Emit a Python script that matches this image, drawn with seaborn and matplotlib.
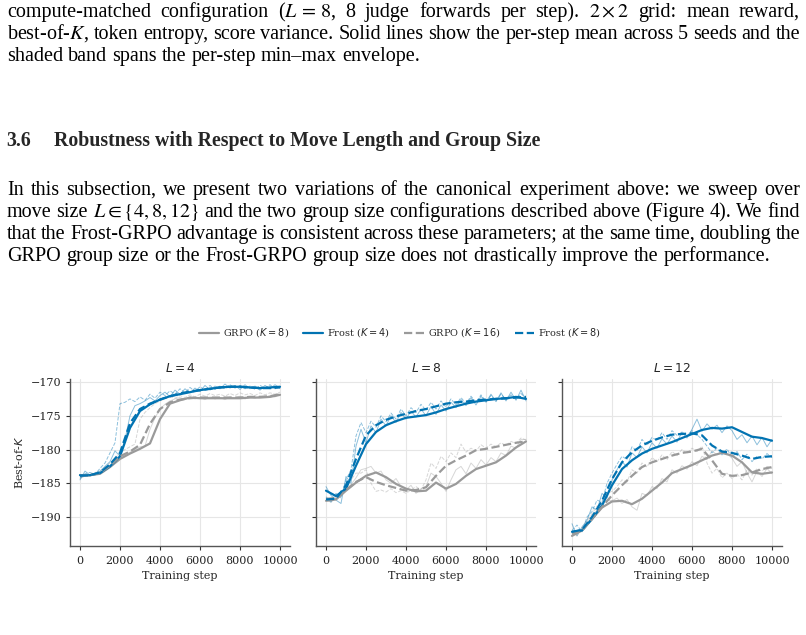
import numpy as np
import pandas as pd
import seaborn as sns
import matplotlib
matplotlib.use("Agg")
import matplotlib.pyplot as plt
from matplotlib.lines import Line2D

# ---------------- data ----------------
steps_mean = list(range(0, 10001, 500))
steps_raw = list(range(0, 10001, 250))

panel_titles = ["$L=4$", "$L=8$", "$L=12$"]
series_names = ["GRPO ($K=8$)", "Frost ($K=4$)", "GRPO ($K=16$)", "Frost ($K=8$)"]

# per-step means (smoothed) for each panel, series order as series_names
l4_grpo8 = [-183.8, -183.8, -183.6, -182.6, -181.4, -180.6, -179.9, -179.1, -175.5, -173.2, -172.7,
            -172.3, -172.4, -172.4, -172.4, -172.4, -172.4, -172.3, -172.3, -172.2, -171.9]
l4_frost4 = [-183.8, -183.8, -183.5, -182.5, -181.0, -176.8, -174.3, -173.3, -172.6, -172.1, -171.8,
             -171.5, -171.2, -171.0, -170.8, -170.7, -170.7, -170.8, -170.9, -170.8, -170.7]
l4_grpo16 = [-183.9, -183.8, -183.5, -182.4, -181.0, -180.3, -179.3, -176.2, -174.0, -173.0, -172.6,
             -172.4, -172.3, -172.3, -172.3, -172.3, -172.3, -172.2, -172.2, -172.1, -171.8]
l4_frost8 = [-183.9, -183.8, -183.4, -182.2, -180.5, -176.1, -174.0, -173.2, -172.6, -172.1, -171.7,
             -171.4, -171.2, -171.0, -170.8, -170.7, -170.7, -170.8, -170.9, -170.9, -170.8]

l8_grpo8 = [-187.6, -187.4, -186.1, -184.9, -183.9, -183.4, -184.1, -185.1, -185.8, -186.2, -186.1,
            -184.9, -185.8, -185.1, -183.9, -182.9, -182.4, -181.9, -180.9, -179.7, -178.8]
l8_frost4 = [-186.1, -186.9, -185.8, -182.4, -179.2, -177.4, -176.4, -175.8, -175.3, -175.1, -174.9,
             -174.5, -174.0, -173.6, -173.2, -172.9, -172.7, -172.5, -172.4, -172.2, -172.5]
l8_grpo16 = [-187.3, -187.2, -186.0, -184.8, -184.1, -184.8, -185.3, -185.7, -186.1, -186.0, -185.6,
             -183.9, -182.4, -181.6, -180.9, -180.1, -179.9, -179.6, -179.3, -179.0, -178.8]
l8_frost8 = [-187.4, -187.3, -185.3, -181.4, -177.9, -176.4, -175.6, -175.1, -174.7, -174.3, -174.0,
             -173.6, -173.2, -173.0, -172.9, -172.7, -172.6, -172.5, -172.4, -172.3, -172.2]

l12_grpo8 = [-192.8, -192.0, -190.3, -188.6, -187.7, -187.6, -188.1, -187.3, -186.1, -184.9, -183.5,
             -182.9, -182.3, -181.6, -180.9, -180.5, -180.9, -181.9, -183.4, -183.6, -183.4]
l12_frost4 = [-192.2, -192.0, -190.3, -188.3, -185.3, -182.9, -181.6, -180.6, -179.9, -179.4, -178.9,
              -178.3, -177.7, -177.1, -176.8, -176.9, -176.7, -177.4, -178.1, -178.3, -178.7]
l12_grpo16 = [-192.5, -192.0, -190.3, -188.5, -186.8, -185.3, -183.9, -182.6, -181.9, -181.4, -180.9,
              -180.5, -180.3, -179.9, -181.6, -183.6, -183.9, -183.8, -183.4, -182.9, -182.6]
l12_frost8 = [-192.2, -191.9, -190.0, -187.6, -184.4, -181.9, -180.4, -179.4, -178.7, -178.2, -177.8,
              -177.7, -177.6, -177.9, -179.4, -180.3, -180.5, -180.9, -181.4, -181.1, -181.0]

# raw per-step traces (faint), read every 250 steps
l4_grpo8_raw = [-184.3, -183.9, -184.0, -183.6, -183.5, -183.0, -182.4, -181.8, -181.2, -180.8, -180.4,
                -180.0, -179.6, -179.5, -177.0, -175.3, -174.0, -173.3, -172.8, -172.5, -172.3, -172.6,
                -172.2, -172.5, -172.3, -172.6, -172.2, -172.5, -172.3, -172.6, -172.2, -172.4, -172.1,
                -172.5, -172.2, -172.4, -172.1, -172.3, -172.0, -172.2, -171.8]
l4_frost4_raw = [-184.5, -183.2, -183.8, -183.5, -183.2, -182.5, -181.8, -180.2, -181.0, -178.5, -175.0,
                 -173.5, -173.2, -172.8, -172.3, -172.8, -172.0, -171.5, -172.2, -171.2, -171.8, -171.0,
                 -171.6, -170.9, -171.4, -170.5, -171.2, -170.6, -171.0, -170.3, -170.9, -170.5, -171.1,
                 -170.4, -171.0, -170.6, -171.2, -170.5, -171.0, -170.4, -170.9]
l4_grpo16_raw = [-184.1, -184.0, -183.7, -183.4, -183.3, -182.6, -182.0, -181.3, -180.5, -180.0, -179.6,
                 -179.2, -175.5, -174.5, -173.8, -173.2, -172.8, -172.5, -172.2, -172.4, -172.0, -172.3,
                 -171.9, -172.2, -171.8, -172.1, -171.7, -172.0, -171.8, -172.1, -171.7, -172.0, -171.6,
                 -171.9, -171.7, -172.0, -171.6, -171.9, -171.6, -171.8, -171.5]
l4_frost8_raw = [-184.2, -183.6, -183.4, -183.7, -182.8, -182.0, -180.5, -179.0, -173.2, -173.0, -172.5,
                 -172.9, -172.2, -172.7, -171.8, -172.4, -171.5, -172.0, -171.3, -171.8, -171.0, -171.6,
                 -170.8, -171.4, -170.7, -171.2, -170.5, -171.1, -170.6, -171.0, -170.4, -170.9, -170.5,
                 -171.0, -170.6, -171.1, -170.5, -170.9, -170.4, -171.0, -170.7]

l8_grpo8_raw = [-187.5, -187.8, -187.2, -186.8, -186.0, -185.2, -184.2, -183.0, -182.8, -182.5, -183.5,
                -183.2, -184.5, -185.0, -184.3, -185.5, -186.0, -185.3, -186.5, -185.8, -185.5, -183.5,
                -184.0, -185.0, -186.2, -184.5, -183.0, -182.5, -183.6, -182.0, -182.8, -181.5, -182.3,
                -181.2, -181.8, -180.5, -180.9, -179.5, -179.8, -178.5, -178.5]
l8_frost4_raw = [-185.5, -186.8, -187.5, -188.0, -184.0, -185.0, -179.5, -177.0, -179.0, -176.5, -177.5,
                 -175.5, -176.5, -175.0, -176.0, -174.5, -175.5, -174.3, -175.2, -174.0, -175.0, -173.6,
                 -174.8, -173.4, -174.3, -173.0, -173.8, -172.6, -173.5, -172.3, -173.4, -172.1, -173.0,
                 -171.8, -172.9, -171.6, -172.8, -171.5, -172.7, -171.2, -172.8]
l8_grpo16_raw = [-187.2, -187.5, -187.0, -186.5, -185.5, -184.5, -183.5, -183.5, -183.0, -185.0, -186.2,
                 -186.0, -186.3, -185.8, -186.4, -186.1, -186.5, -186.0, -185.5, -186.0, -184.5, -182.0,
                 -182.8, -181.0, -181.8, -180.5, -181.2, -179.2, -180.4, -179.8, -180.2, -179.3, -179.8,
                 -179.2, -179.6, -179.0, -179.4, -178.8, -179.1, -178.3, -178.6]
l8_frost8_raw = [-187.0, -187.8, -186.5, -187.2, -184.5, -183.0, -178.0, -176.0, -177.5, -175.8, -176.7,
                 -175.0, -175.9, -174.6, -175.5, -174.0, -175.0, -173.8, -174.5, -173.3, -174.2, -173.0,
                 -174.0, -172.8, -173.7, -172.5, -173.4, -172.3, -173.2, -172.1, -173.0, -171.9, -172.9,
                 -172.0, -172.8, -171.8, -172.6, -171.9, -172.5, -171.7, -172.4]

l12_grpo8_raw = [-192.8, -192.0, -191.8, -190.8, -189.8, -189.0, -188.2, -187.5, -187.6, -187.2, -188.0,
                 -187.4, -188.5, -189.0, -186.5, -186.8, -185.5, -185.8, -184.3, -184.8, -183.0, -183.5,
                 -182.4, -182.9, -181.8, -182.4, -181.0, -181.5, -180.2, -180.8, -180.2, -180.6, -181.3,
                 -182.5, -181.8, -183.5, -184.8, -183.2, -184.0, -182.8, -183.6]
l12_frost4_raw = [-191.0, -192.8, -191.5, -190.5, -188.5, -189.0, -186.5, -187.2, -184.5, -183.0, -181.8,
                  -182.6, -180.5, -181.2, -179.6, -180.5, -179.0, -179.8, -178.4, -179.2, -178.0, -178.9,
                  -177.4, -178.3, -177.0, -175.5, -177.3, -176.2, -177.0, -176.4, -177.5, -176.5, -177.2,
                  -178.5, -177.8, -179.0, -178.0, -179.3, -178.2, -179.6, -178.5]
l12_grpo16_raw = [-192.2, -192.8, -191.5, -190.5, -189.5, -188.4, -188.0, -186.5, -186.2, -185.5, -184.5,
                  -184.8, -183.0, -183.5, -182.0, -182.6, -181.2, -181.8, -180.8, -181.5, -180.3, -180.9,
                  -180.0, -180.6, -179.8, -180.3, -179.5, -182.0, -183.5, -182.8, -184.2, -183.5, -184.3,
                  -183.6, -184.5, -183.0, -183.8, -182.8, -183.2, -182.5, -182.8]
l12_frost8_raw = [-192.0, -191.2, -192.2, -190.0, -189.2, -187.5, -187.8, -185.0, -183.5, -182.2, -181.0,
                  -181.5, -179.6, -180.2, -178.5, -179.4, -178.2, -178.7, -177.5, -178.5, -177.2, -177.9,
                  -177.4, -178.0, -177.2, -177.8, -178.5, -179.5, -180.5, -179.8, -180.8, -179.9, -181.2,
                  -180.3, -181.5, -180.7, -181.8, -181.0, -181.4, -180.6, -181.2]

means = [[l4_grpo8, l4_frost4, l4_grpo16, l4_frost8],
         [l8_grpo8, l8_frost4, l8_grpo16, l8_frost8],
         [l12_grpo8, l12_frost4, l12_grpo16, l12_frost8]]
raws = [[l4_grpo8_raw, l4_frost4_raw, l4_grpo16_raw, l4_frost8_raw],
        [l8_grpo8_raw, l8_frost4_raw, l8_grpo16_raw, l8_frost8_raw],
        [l12_grpo8_raw, l12_frost4_raw, l12_grpo16_raw, l12_frost8_raw]]

y_ticks = [-170, -175, -180, -185, -190]
x_ticks = [0, 2000, 4000, 6000, 8000, 10000]

# ---------------- style ----------------
sns.set_style("ticks")
plt.rcParams["font.family"] = ["DejaVu Serif"]
plt.rcParams["mathtext.fontset"] = "dejavusans"

BLUE = "#0173B2"
GRAY = "#9a9a9a"
colors = [GRAY, BLUE, GRAY, BLUE]
styles = ["-", "-", "--", "--"]
raw_alpha = [0.4, 0.45, 0.4, 0.45]

W, H = 806, 635
fig = plt.figure(figsize=(W / 100, H / 100), dpi=100)


def px_axes(l, t, r, b):
    return fig.add_axes([l / W, 1 - b / H, (r - l) / W, (b - t) / H])


axes_px = [(70, 379, 290, 546), (316, 379, 536, 546), (562, 379, 782, 546)]
for p, (box, title) in enumerate(zip(axes_px, panel_titles)):
    ax = px_axes(*box)
    for s in range(4):
        df_raw = pd.DataFrame({"step": steps_raw, "val": raws[p][s]})
        sns.lineplot(data=df_raw, x="step", y="val", ax=ax, color=colors[s],
                     linestyle=styles[s], lw=0.7, alpha=raw_alpha[s], zorder=1)
    for s in range(4):
        df_m = pd.DataFrame({"step": steps_mean, "val": means[p][s]})
        sns.lineplot(data=df_m, x="step", y="val", ax=ax, color=colors[s],
                     linestyle=styles[s], lw=1.6, zorder=3)
    ax.set_xlim(-500, 10500)
    ax.set_ylim(-194.3, -169.55)
    ax.set_xticks(x_ticks)
    ax.set_yticks(y_ticks)
    ax.grid(True, color="#e6e6e6", lw=0.8)
    ax.set_axisbelow(True)
    ax.set_title(title, fontsize=8.8, pad=5)
    ax.set_xlabel("Training step", fontsize=8, labelpad=3)
    ax.tick_params(labelsize=8, length=3, width=0.8, colors="#333333", labelcolor="#222222", pad=3)
    ax.tick_params(axis="x", pad=4.5)
    for sp in ["left", "bottom"]:
        ax.spines[sp].set_color("#555555")
        ax.spines[sp].set_linewidth(1.0)
    sns.despine(ax=ax)
    if p == 0:
        ax.set_ylabel("Best-of-$K$", fontsize=8, labelpad=4)
    else:
        ax.set_ylabel("")
        ax.tick_params(labelleft=False)

handles = [Line2D([0], [0], color=colors[s], linestyle=styles[s], lw=1.6) for s in range(4)]
fig.legend(handles, series_names, loc="center", bbox_to_anchor=(400 / W, 1 - 333 / H),
           ncol=4, frameon=False, fontsize=7, handlelength=2.0, handletextpad=0.4,
           columnspacing=1.5)

# ---------------- surrounding paper text ----------------
renderer = fig.canvas.get_renderer()
TXT = dict(family="Liberation Serif", fontsize=14.5, math_fontfamily="stix", color="black")
X0, X1 = 7, 800


def put_line(words, y_base, justify=True, **kw):
    style = dict(TXT)
    style.update(kw)
    objs = [fig.text(0, 1 - y_base / H, w, va="baseline", ha="left", **style) for w in words]
    widths = [o.get_window_extent(renderer).width for o in objs]
    t1 = fig.text(0, 0, "a b", **style)
    t2 = fig.text(0, 0, "ab", **style)
    space = t1.get_window_extent(renderer).width - t2.get_window_extent(renderer).width
    t1.remove()
    t2.remove()
    if justify and len(words) > 1:
        gap = (X1 - X0 - sum(widths)) / (len(words) - 1)
    else:
        gap = space
    x = X0
    for o, wd in zip(objs, widths):
        o.set_x(x / W)
        x += wd + gap


put_line("compute-matched configuration ($L\\,=\\,8$, 8 judge forwards per step). $2\\times2$ grid: mean reward,".split(" "), 17)
put_line("best-of-$K$, token entropy, score variance. Solid lines show the per-step mean across 5 seeds and the".split(" "), 39)
put_line("shaded band spans the per-step min–max envelope.".split(" "), 61, justify=False)

fig.text(6 / W, 1 - 146 / H, "3.6", va="baseline", ha="left", family="Liberation Serif",
         fontsize=14.3, fontweight="bold")
fig.text(54 / W, 1 - 146 / H, "Robustness with Respect to Move Length and Group Size", va="baseline",
         ha="left", family="Liberation Serif", fontsize=14.3, fontweight="bold")

put_line("In this subsection, we present two variations of the canonical experiment above: we sweep over".split(" "), 195)
put_line("move size $L\\in\\{4,8,12\\}$ and the two group size configurations described above (Figure 4). We find".split(" "), 217)
put_line("that the Frost-GRPO advantage is consistent across these parameters; at the same time, doubling the".split(" "), 239)
put_line("GRPO group size or the Frost-GRPO group size does not drastically improve the performance.".split(" "), 261, justify=False)

fig.savefig("out.png", dpi=100)
